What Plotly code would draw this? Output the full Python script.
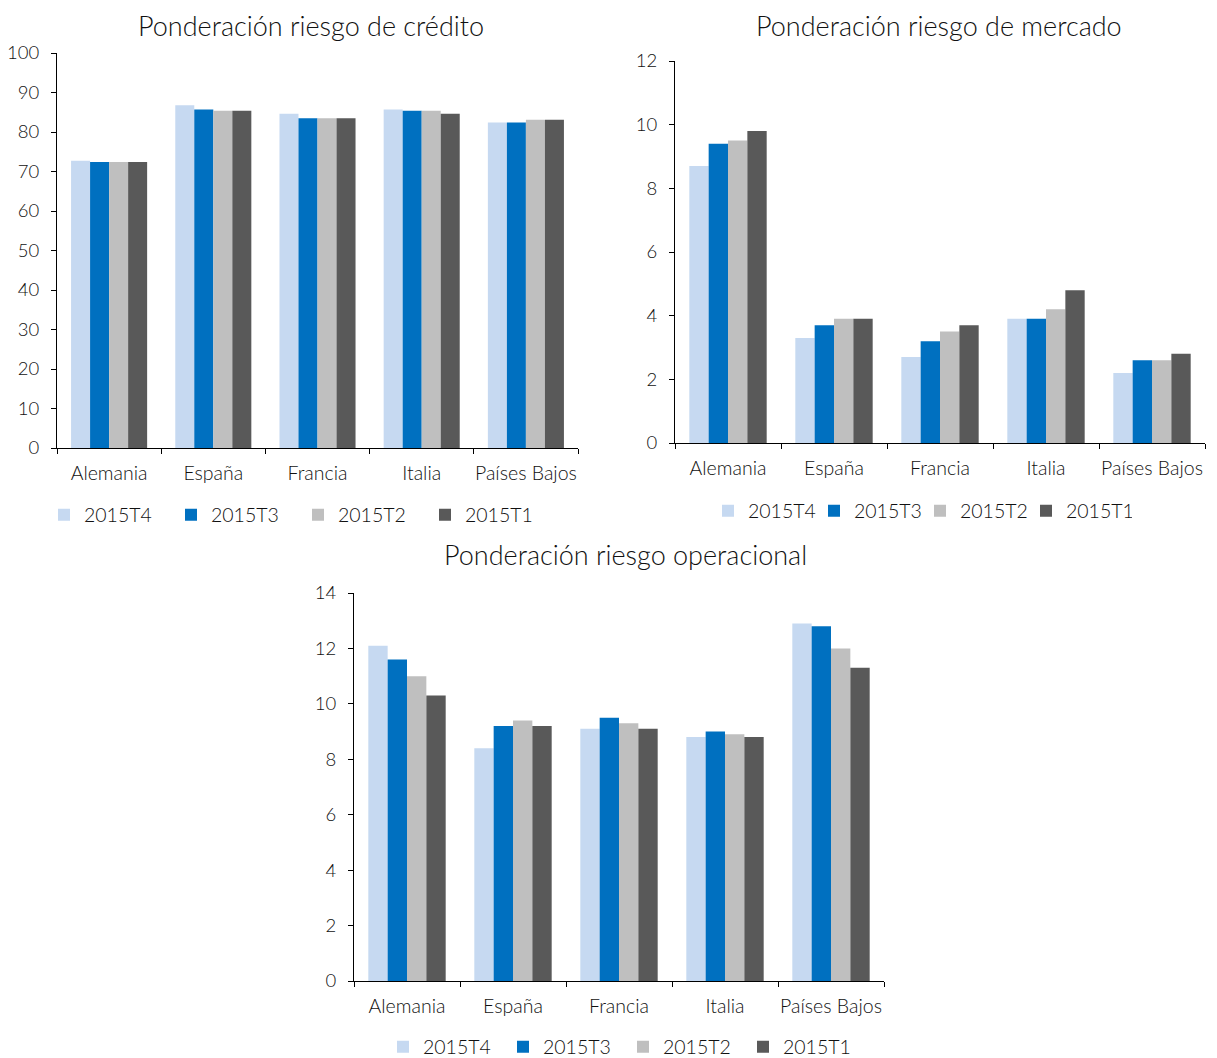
import plotly.graph_objects as go

categories = ["Alemania", "España", "Francia", "Italia", "Países Bajos"]
series_names = ["2015T4", "2015T3", "2015T2", "2015T1"]
series_colors = ["#c6d9f1", "#0070c0", "#bfbfbf", "#595959"]

# Ponderación riesgo de crédito
credito = {
    "2015T4": [72.7, 86.8, 84.6, 85.7, 82.4],
    "2015T3": [72.4, 85.7, 83.5, 85.4, 82.4],
    "2015T2": [72.4, 85.4, 83.5, 85.4, 83.1],
    "2015T1": [72.4, 85.4, 83.5, 84.6, 83.1],
}
# Ponderación riesgo de mercado
mercado = {
    "2015T4": [8.7, 3.3, 2.7, 3.9, 2.2],
    "2015T3": [9.4, 3.7, 3.2, 3.9, 2.6],
    "2015T2": [9.5, 3.9, 3.5, 4.2, 2.6],
    "2015T1": [9.8, 3.9, 3.7, 4.8, 2.8],
}
# Ponderación riesgo operacional
operacional = {
    "2015T4": [12.1, 8.4, 9.1, 8.8, 12.9],
    "2015T3": [11.6, 9.2, 9.5, 9.0, 12.8],
    "2015T2": [11.0, 9.4, 9.3, 8.9, 12.0],
    "2015T1": [10.3, 9.2, 9.1, 8.8, 11.3],
}

titles = ["Ponderación riesgo de crédito", "Ponderación riesgo de mercado",
          "Ponderación riesgo operacional"]

PAGE_W, PAGE_H = 1217, 1058
OFF = 8  # default body margin of the html page
W, H = PAGE_W - OFF, PAGE_H - OFF
FONT = "Lato"
TXT = "#111111"
WEIGHT = 300

fig = go.Figure()

datasets = [credito, mercado, operacional]
for i, data in enumerate(datasets):
    ax = "" if i == 0 else str(i + 1)
    for name, col in zip(series_names, series_colors):
        fig.add_trace(go.Bar(
            x=categories, y=data[name], name=name,
            marker=dict(color=col, line=dict(width=0)),
            xaxis="x" + ax, yaxis="y" + ax,
            legend="legend" + ax,
        ))

def px_x(v):
    return (v - OFF) / W

def px_y(v):
    return 1 - (v - OFF) / H

axis_common = dict(showline=True, linecolor="#000000", linewidth=1,
                   ticks="outside", ticklen=5, tickcolor="#000000",
                   showgrid=False, zeroline=False, automargin=False)

# plot area pixel boxes on the page: (left, right, top, bottom)
boxes = [(57, 578, 53, 448), (675, 1205, 61, 443), (354, 884, 593, 981)]
ranges = [(0, 100, 10), (0, 12, 2), (0, 14, 2)]

layout = dict(
    width=W, height=H, margin=dict(l=0, r=0, t=0, b=0, autoexpand=False),
    paper_bgcolor="white", plot_bgcolor="white",
    barmode="group", bargap=0.27, bargroupgap=0,
    font=dict(family=FONT, color=TXT),
)
for i, ((l, r, t, b), (r0, r1, dt)) in enumerate(zip(boxes, ranges)):
    ax = "" if i == 0 else str(i + 1)
    layout["xaxis" + ax] = dict(domain=[px_x(l), px_x(r)], anchor="y" + ax,
                                tickson="boundaries", tickangle=0, ticklabelstandoff=8,
                                tickfont=dict(family=FONT, size=19.5, color=TXT, weight=WEIGHT),
                                **axis_common)
    layout["yaxis" + ax] = dict(domain=[px_y(b), px_y(t)], anchor="x" + ax,
                                range=[r0, r1], dtick=dt, ticklabelstandoff=8,
                                tickfont=dict(family=FONT, size=18.5, color=TXT, weight=WEIGHT),
                                **axis_common)

legend_pos = [(44, 515, 82), (708, 511, 61), (383, 1047, 75)]
for i, (lx, ly, ew) in enumerate(legend_pos):
    key = "legend" if i == 0 else "legend" + str(i + 1)
    layout[key] = dict(orientation="h", x=px_x(lx), y=px_y(ly),
                       xanchor="left", yanchor="middle",
                       entrywidth=ew, entrywidthmode="pixels",
                       itemwidth=30, tracegroupgap=0,
                       font=dict(family=FONT, size=19.5, color=TXT, weight=WEIGHT),
                       bgcolor="rgba(0,0,0,0)")

# (center x, top y) on the page
title_pos = [(311, 8), (939, 8), (625, 537)]
annotations = []
for t, (cx, ty) in zip(titles, title_pos):
    annotations.append(dict(text=t, x=px_x(cx), y=min(px_y(ty), 1.0), xref="paper", yref="paper",
                            xanchor="center", yanchor="top", showarrow=False, borderpad=0,
                            font=dict(family=FONT, size=27, color=TXT, weight=WEIGHT)))
layout["annotations"] = annotations

fig.update_layout(**layout)
fig.write_html("out.html")
